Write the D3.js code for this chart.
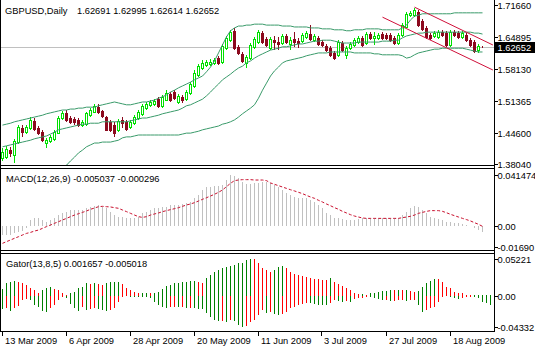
<!DOCTYPE html>
<html>
<head>
<meta charset="utf-8">
<script src="https://cdn.jsdelivr.net/npm/d3@7"></script>
<style>
  html, body { margin: 0; padding: 0; background: #fff; }
  svg { display: block; font-family: "Liberation Sans", Arial, sans-serif; font-size: 9.3px; }
</style>
</head>
<body>
<svg id="chart" width="535" height="350"></svg>
<script>
// ---- GBPUSD daily, 13 Mar 2009 .. 28 Aug 2009 ----
const open = [1.3922,1.3944,1.4092,1.3986,1.4262,1.4558,1.4474,1.4558,1.4707,1.4558,
1.4474,1.4240,1.4283,1.4325,1.4452,1.4770,1.4876,1.4770,1.4749,1.4728,
1.4622,1.4643,1.4834,1.4898,1.5004,1.4919,1.4792,1.4686,1.4622,1.4516,
1.4728,1.4686,1.4580,1.4664,1.4770,1.4855,1.4982,1.5046,1.5067,1.5173,
1.5025,1.5152,1.5279,1.5322,1.5110,1.5216,1.5173,1.5300,1.5449,1.5682,
1.5830,1.5894,1.5915,1.5936,1.6042,1.5958,1.6254,1.6424,1.6615,1.6276,
1.6127,1.5936,1.6042,1.6276,1.6382,1.6572,1.6445,1.6254,1.6424,1.6382,
1.6360,1.6509,1.6339,1.6445,1.6403,1.6403,1.6488,1.6551,1.6424,1.6466,
1.6382,1.6297,1.6254,1.6148,1.6106,1.6360,1.6106,1.6254,1.6318,1.6382,
1.6466,1.6360,1.6551,1.6466,1.6466,1.6551,1.6530,1.6530,1.6466,1.6360,
1.6530,1.6700,1.6954,1.6954,1.7018,1.6827,1.6678,1.6530,1.6509,1.6488,
1.6594,1.6572,1.6318,1.6594,1.6572,1.6488,1.6530,1.6424,1.6382,1.6212,
1.62691];
const high = [1.4134,1.4177,1.4156,1.4325,1.4622,1.4622,1.4622,1.4792,1.4770,1.4601,
1.4516,1.4346,1.4410,1.4516,1.4813,1.4919,1.4940,1.4813,1.4792,1.4770,
1.4728,1.4898,1.4982,1.5067,1.5067,1.4940,1.4813,1.4728,1.4686,1.4749,
1.4792,1.4728,1.4728,1.4834,1.4940,1.5067,1.5110,1.5152,1.5173,1.5216,
1.5258,1.5364,1.5322,1.5364,1.5279,1.5258,1.5364,1.5534,1.5788,1.5915,
1.6000,1.6000,1.6021,1.6042,1.6085,1.6339,1.6509,1.6636,1.6678,1.6318,
1.6170,1.6106,1.6360,1.6488,1.6636,1.6615,1.6488,1.6488,1.6509,1.6488,
1.6551,1.6551,1.6488,1.6594,1.6466,1.6572,1.6615,1.6742,1.6551,1.6509,
1.6424,1.6339,1.6297,1.6191,1.6424,1.6403,1.6297,1.6382,1.6466,1.6509,
1.6509,1.6594,1.6594,1.6594,1.6572,1.6594,1.6572,1.6572,1.6509,1.6572,
1.6784,1.7018,1.7039,1.7102,1.7060,1.6869,1.6721,1.6572,1.6615,1.6636,
1.6636,1.6615,1.6636,1.6636,1.6615,1.6615,1.6572,1.6466,1.6424,1.6339,
1.62995];
const low = [1.3859,1.3901,1.3944,1.3816,1.4219,1.4368,1.4431,1.4516,1.4495,1.4410,
1.4262,1.4134,1.4240,1.4283,1.4431,1.4728,1.4686,1.4643,1.4622,1.4580,
1.4580,1.4601,1.4792,1.4876,1.4855,1.4770,1.4495,1.4474,1.4368,1.4474,
1.4558,1.4495,1.4537,1.4622,1.4728,1.4813,1.4940,1.5004,1.5025,1.4982,
1.4982,1.5131,1.5110,1.5152,1.5067,1.5088,1.5131,1.5258,1.5406,1.5640,
1.5788,1.5852,1.5873,1.5894,1.5894,1.5915,1.6212,1.6382,1.6212,1.6106,
1.5936,1.5830,1.6000,1.6233,1.6339,1.6339,1.6276,1.6212,1.6212,1.6212,
1.6318,1.6339,1.6212,1.6276,1.6254,1.6360,1.6445,1.6403,1.6382,1.6297,
1.6276,1.6170,1.6064,1.6000,1.6064,1.6170,1.6021,1.6212,1.6276,1.6339,
1.6276,1.6318,1.6424,1.6318,1.6424,1.6424,1.6424,1.6382,1.6318,1.6318,
1.6488,1.6678,1.6912,1.6912,1.6700,1.6615,1.6445,1.6424,1.6466,1.6445,
1.6488,1.6276,1.6276,1.6488,1.6445,1.6445,1.6382,1.6276,1.6148,1.6148,
1.62614];
const close = [1.4050,1.4113,1.4028,1.4283,1.4580,1.4474,1.4580,1.4728,1.4537,1.4452,
1.4304,1.4304,1.4368,1.4474,1.4770,1.4876,1.4728,1.4686,1.4686,1.4622,
1.4686,1.4876,1.4940,1.5025,1.4898,1.4813,1.4516,1.4516,1.4452,1.4707,
1.4664,1.4537,1.4686,1.4792,1.4898,1.5025,1.5067,1.5110,1.5131,1.5025,
1.5216,1.5300,1.5152,1.5194,1.5237,1.5152,1.5322,1.5491,1.5724,1.5873,
1.5936,1.5958,1.5958,1.6000,1.5936,1.6297,1.6466,1.6594,1.6254,1.6148,
1.5979,1.6064,1.6318,1.6445,1.6594,1.6382,1.6318,1.6445,1.6382,1.6339,
1.6509,1.6382,1.6424,1.6382,1.6360,1.6530,1.6572,1.6445,1.6509,1.6339,
1.6318,1.6212,1.6106,1.6042,1.6382,1.6212,1.6254,1.6339,1.6424,1.6466,
1.6318,1.6551,1.6466,1.6509,1.6530,1.6466,1.6466,1.6424,1.6360,1.6530,
1.6742,1.6975,1.6996,1.7060,1.6742,1.6657,1.6488,1.6466,1.6572,1.6594,
1.6530,1.6318,1.6594,1.6530,1.6488,1.6572,1.6424,1.6318,1.6191,1.6297,
1.62652];

// Bollinger Bands (20, 2)
const bbUpper = [1.462,1.464,1.466,1.469,1.471,1.473,1.475,1.477,1.479,1.481,1.483,1.486,1.488,1.490,1.492,1.494,
1.494,1.496,1.496,1.498,1.498,1.500,1.500,1.500,1.503,1.505,1.507,1.509,1.511,1.509,1.507,1.505,
1.505,1.507,1.509,1.511,1.511,1.513,1.515,1.519,1.522,1.526,1.532,1.536,1.541,1.545,1.549,1.553,
1.558,1.562,1.566,1.575,1.585,1.598,1.615,1.632,1.649,1.662,1.668,1.672,1.672,1.674,1.674,1.676,
1.676,1.676,1.674,1.674,1.674,1.674,1.672,1.672,1.672,1.670,1.670,1.670,1.670,1.668,1.668,1.668,
1.666,1.666,1.666,1.664,1.664,1.664,1.662,1.662,1.664,1.664,1.664,1.666,1.666,1.666,1.666,1.664,
1.664,1.664,1.664,1.664,1.668,1.674,1.685,1.693,1.695,1.698,1.698,1.698,1.698,1.698,1.698,1.698,
1.698,1.700,1.700,1.700,1.700,1.700,1.700,1.700,1.700];
const bbMiddle = [1.416,1.418,1.420,1.422,1.424,1.426,1.428,1.430,1.433,1.435,1.437,1.439,1.443,1.447,1.452,1.454,
1.456,1.458,1.460,1.462,1.464,1.464,1.466,1.466,1.466,1.469,1.469,1.469,1.469,1.469,1.469,1.469,
1.471,1.473,1.475,1.477,1.477,1.479,1.481,1.483,1.486,1.488,1.490,1.492,1.494,1.498,1.503,1.505,
1.509,1.513,1.517,1.524,1.532,1.541,1.549,1.558,1.564,1.570,1.577,1.583,1.587,1.594,1.598,1.604,
1.609,1.613,1.617,1.621,1.623,1.625,1.628,1.628,1.630,1.632,1.634,1.634,1.636,1.638,1.640,1.640,
1.642,1.642,1.642,1.640,1.638,1.636,1.636,1.636,1.636,1.638,1.638,1.638,1.638,1.638,1.638,1.640,
1.640,1.640,1.642,1.642,1.647,1.651,1.653,1.655,1.657,1.657,1.659,1.659,1.659,1.659,1.659,1.659,
1.659,1.659,1.659,1.659,1.659,1.659,1.657,1.657,1.655];
const bbLower = [1.367,1.365,1.363,1.360,1.356,1.354,1.352,1.350,1.350,1.350,1.352,1.354,1.358,1.363,1.367,1.373,
1.377,1.386,1.394,1.403,1.409,1.416,1.420,1.424,1.424,1.426,1.426,1.426,1.428,1.430,1.435,1.437,
1.437,1.439,1.441,1.441,1.441,1.441,1.441,1.441,1.441,1.441,1.441,1.441,1.441,1.443,1.445,1.445,
1.447,1.449,1.452,1.454,1.456,1.458,1.460,1.464,1.466,1.469,1.473,1.479,1.486,1.492,1.498,1.505,
1.519,1.536,1.551,1.566,1.577,1.585,1.594,1.598,1.600,1.602,1.604,1.606,1.609,1.611,1.613,1.615,
1.615,1.615,1.617,1.617,1.617,1.617,1.617,1.617,1.615,1.615,1.615,1.615,1.615,1.613,1.613,1.611,
1.611,1.611,1.611,1.611,1.609,1.604,1.606,1.611,1.615,1.617,1.619,1.621,1.623,1.623,1.625,1.625,
1.625,1.625,1.625,1.625,1.623,1.621,1.619,1.617,1.617];

// MACD (12,26,9): main histogram and signal
const macdMain = [-0.0075,-0.0073,-0.0070,-0.0060,-0.0046,-0.0040,-0.0019,0.0049,0.0062,0.0062,
0.0049,0.0035,0.0049,0.0062,0.0089,0.0103,0.0117,0.0130,0.0130,0.0130,
0.0130,0.0144,0.0157,0.0165,0.0171,0.0157,0.0144,0.0117,0.0089,0.0076,
0.0076,0.0062,0.0062,0.0062,0.0076,0.0103,0.0117,0.0130,0.0144,0.0144,
0.0157,0.0157,0.0171,0.0171,0.0171,0.0176,0.0184,0.0198,0.0225,0.0252,
0.0293,0.0320,0.0320,0.0328,0.0328,0.0333,0.0374,0.041474,0.0409,0.0388,
0.0361,0.0339,0.0339,0.0347,0.0347,0.0361,0.0355,0.0347,0.0333,0.0320,
0.0293,0.0266,0.0252,0.0239,0.0225,0.0225,0.0225,0.0211,0.0198,0.0171,
0.0144,0.0103,0.0089,0.0062,0.0062,0.0057,0.0049,0.0049,0.0049,0.0057,
0.0062,0.0062,0.0068,0.0068,0.0068,0.0062,0.0062,0.0062,0.0062,0.0068,
0.0089,0.0117,0.0144,0.0165,0.0157,0.0130,0.0103,0.0076,0.0062,0.0057,
0.0049,0.0035,0.0035,0.0022,0.0022,0.0014,0.0008,0.0000,-0.0019,-0.0033,
-0.005037];
const macdSignal = [-0.0141,-0.0127,-0.0114,-0.0100,-0.0087,-0.0073,-0.0060,-0.0052,-0.0041,-0.0033,
-0.0019,-0.0005,0.0008,0.0022,0.0035,0.0049,0.0062,0.0076,0.0089,0.0100,
0.0111,0.0122,0.0136,0.0146,0.0157,0.0160,0.0157,0.0155,0.0149,0.0144,
0.0130,0.0117,0.0103,0.0089,0.0076,0.0070,0.0076,0.0089,0.0098,0.0106,
0.0117,0.0125,0.0133,0.0141,0.0149,0.0160,0.0171,0.0179,0.0190,0.0203,
0.0217,0.0230,0.0244,0.0258,0.0274,0.0293,0.0320,0.0347,0.0369,0.0374,
0.0377,0.0377,0.0377,0.0374,0.0374,0.0374,0.0369,0.0350,0.0339,0.0328,
0.0317,0.0306,0.0295,0.0285,0.0274,0.0263,0.0249,0.0236,0.0225,0.0209,
0.0195,0.0179,0.0165,0.0149,0.0136,0.0119,0.0106,0.0092,0.0081,0.0073,
0.0065,0.0062,0.0062,0.0062,0.0062,0.0062,0.0062,0.0062,0.0062,0.0062,
0.0068,0.0073,0.0079,0.0089,0.0103,0.0111,0.0119,0.0125,0.0125,0.0125,
0.0119,0.0108,0.0095,0.0084,0.0073,0.0062,0.0052,0.0041,0.0027,0.0014,
-0.000296];

// Gator (13,8,5): upper and lower histograms
const gatorUpper = [0.0094,0.0179,0.0202,0.0216,0.0202,0.0179,0.0155,0.0108,0.0085,0.0047,
0.0085,0.0108,0.0122,0.0094,0.0085,0.0038,0.0014,0.0047,0.0061,0.0108,
0.0132,0.0179,0.0169,0.0179,0.0169,0.0155,0.0179,0.0193,0.0202,0.0202,
0.0169,0.0108,0.0085,0.0061,0.0047,0.0047,0.0047,0.0038,0.0038,0.0061,
0.0099,0.0141,0.0155,0.0179,0.0188,0.0193,0.0202,0.0216,0.0216,0.0202,
0.0188,0.0249,0.0296,0.0343,0.0367,0.0390,0.0414,0.0423,0.0437,0.0461,
0.0470,0.0508,0.05221,0.0520,0.0461,0.0390,0.0367,0.0343,0.0367,0.0414,
0.0423,0.0390,0.0343,0.0310,0.0296,0.0282,0.0263,0.0249,0.0235,0.0233,
0.0231,0.0229,0.0249,0.0202,0.0169,0.0141,0.0108,0.0085,0.0038,0.0028,
0.0030,0.0014,0.0038,0.0047,0.0061,0.0071,0.0075,0.0085,0.0083,0.0085,
0.0083,0.0085,0.0075,0.0061,0.0065,0.0132,0.0179,0.0216,0.0235,0.0233,
0.0202,0.0132,0.0108,0.0061,0.0047,0.0038,0.0014,0.0010,0.0012,0.0014,
0.0016,0.0017,0.0017];
const gatorLower = [-0.0188,-0.0174,-0.0207,-0.0174,-0.0141,-0.0056,-0.0047,-0.0056,-0.0127,-0.0151,
-0.0207,-0.0221,-0.0174,-0.0127,-0.0056,-0.0009,-0.0033,-0.0113,-0.0174,-0.0207,
-0.0151,-0.0198,-0.0188,-0.0174,-0.0188,-0.0198,-0.0207,-0.0198,-0.0174,-0.0080,
-0.0019,-0.0005,-0.0009,-0.0009,-0.0014,-0.0014,-0.0019,-0.0033,-0.0080,-0.0127,
-0.0160,-0.0165,-0.0160,-0.0151,-0.0160,-0.0158,-0.0174,-0.0172,-0.0174,-0.0183,
-0.0188,-0.0245,-0.0292,-0.0339,-0.0353,-0.0348,-0.0362,-0.0339,-0.0348,-0.0409,
-0.04332,-0.0430,-0.0362,-0.0339,-0.0268,-0.0198,-0.0245,-0.0221,-0.0254,-0.0268,
-0.0259,-0.0221,-0.0174,-0.0151,-0.0127,-0.0113,-0.0103,-0.0105,-0.0113,-0.0127,
-0.0129,-0.0131,-0.0103,-0.0056,-0.0066,-0.0080,-0.0066,-0.0080,-0.0047,-0.0033,
-0.0031,-0.0019,-0.0021,-0.0033,-0.0047,-0.0056,-0.0054,-0.0066,-0.0064,-0.0056,
-0.0054,-0.0066,-0.0056,-0.0054,-0.0127,-0.0221,-0.0198,-0.0174,-0.0151,-0.0080,
-0.0009,-0.0007,-0.0019,-0.0033,-0.0047,-0.0033,-0.0019,-0.0009,-0.0019,-0.0033,
-0.0080,-0.0103,-0.0127];

// Trend channel drawn over the last leg (bar index, price)
const channelUpper = [{bar: 103, price: 1.7120}, {bar: 122.6, price: 1.6318}];
const channelLower = [{bar: 95, price: 1.6908}, {bar: 122.6, price: 1.5788}];

const lastPrice = 1.62652;
const priceTicks = [1.71660, 1.64895, 1.58130, 1.51365, 1.44600, 1.38040];
const macdTicks = [0.041474, 0, -0.0169];
const macdTickLabels = ["0.041474", "0.00", "-0.01690"];
const gatorTicks = [0.05221, 0, -0.04332];
const gatorTickLabels = ["0.05221", "0.00", "-0.04332"];
const dateTickBars = [0, 16, 32, 48, 64, 80, 96, 112];
const dateTickLabels = ["13 Mar 2009", "6 Apr 2009", "28 Apr 2009", "20 May 2009",
                        "11 Jun 2009", "3 Jul 2009", "27 Jul 2009", "18 Aug 2009"];

const titleMain = "GBPUSD,Daily";
const titleOHLC = "1.62691 1.62995 1.62614 1.62652";
const titleMacd = "MACD(12,26,9) -0.005037 -0.000296";
const titleGator = "Gator(13,8,5) 0.001657 -0.005018";

// ---- colours ----
const bullColor = "#00e000", bearColor = "#8c0a1e", bandColor = "#3a9a6a";
const channelColor = "#d0103a", signalColor = "#c8102e", histColor = "#c0c0c0";
const gUp = "#008000", gDown = "#ff0000";

// ---- layout ----
const axisX = 494.5;
const mainTop = 0, mainBottom = 165.5;
const macdTop = 168.5, macdBottom = 250.5;
const gatorTop = 253.5, gatorBottom = 331.5;

const svg = d3.select("#chart");
const x = d3.scaleLinear().domain([0, 120]).range([2.5, 482.5]);
const yPrice = d3.scaleLinear().domain([1.37528, 1.7272]).range([166, 0]);
const yMacd = d3.scaleLinear().domain([-0.02033, 0.04636]).range([251, 169]);
const yGator = d3.scaleLinear().domain([-0.0508, 0.05997]).range([332, 253.5]);

const defs = svg.append("defs");
function clip(id, y0, y1) {
  defs.append("clipPath").attr("id", id).append("rect")
    .attr("x", 1).attr("y", y0).attr("width", axisX - 1).attr("height", y1 - y0);
  return svg.append("g").attr("clip-path", `url(#${id})`);
}

// ---- main price window ----
const gMain = clip("clipMain", mainTop, mainBottom);

gMain.append("line")
  .attr("x1", 0).attr("x2", axisX)
  .attr("y1", Math.round(yPrice(lastPrice)) + 0.5).attr("y2", Math.round(yPrice(lastPrice)) + 0.5)
  .attr("stroke", "#c0c0c0");

const bars = d3.range(close.length).map(i => ({i, o: open[i], h: high[i], l: low[i], c: close[i]}));
const gCandles = gMain.append("g").attr("shape-rendering", "crispEdges");
gCandles.selectAll("line").data(bars).join("line")
  .attr("x1", d => x(d.i)).attr("x2", d => x(d.i))
  .attr("y1", d => yPrice(d.h)).attr("y2", d => yPrice(d.l))
  .attr("stroke", d => d.c >= d.o ? bullColor : bearColor);
gCandles.selectAll("rect").data(bars).join("rect")
  .attr("x", d => x(d.i) - 1)
  .attr("width", 2)
  .attr("y", d => Math.round(yPrice(Math.max(d.o, d.c))) + 0.5)
  .attr("height", d => Math.max(0, Math.round(yPrice(Math.min(d.o, d.c))) - Math.round(yPrice(Math.max(d.o, d.c)))))
  .attr("fill", d => d.c >= d.o ? "#fff" : bearColor)
  .attr("stroke", d => d.c >= d.o ? bullColor : bearColor);

const bandLine = d3.line().x((d, i) => x(i)).y(d => yPrice(d));
[bbUpper, bbMiddle, bbLower].forEach(arr => {
  gMain.append("path").attr("d", bandLine(arr))
    .attr("fill", "none").attr("stroke", bandColor).attr("stroke-width", 1);
});

[channelUpper, channelLower].forEach(seg => {
  gMain.append("line")
    .attr("x1", x(seg[0].bar)).attr("y1", yPrice(seg[0].price))
    .attr("x2", x(seg[1].bar)).attr("y2", yPrice(seg[1].price))
    .attr("stroke", channelColor).attr("stroke-width", 1);
});

// ---- MACD window ----
const gMacd = clip("clipMacd", macdTop, macdBottom);
gMacd.append("g").attr("shape-rendering", "crispEdges")
  .selectAll("line").data(macdMain).join("line")
  .attr("x1", (d, i) => x(i)).attr("x2", (d, i) => x(i))
  .attr("y1", yMacd(0)).attr("y2", d => yMacd(d))
  .attr("stroke", histColor);
gMacd.append("path")
  .attr("d", d3.line().x((d, i) => x(i)).y(d => yMacd(d))(macdSignal))
  .attr("fill", "none").attr("stroke", signalColor).attr("stroke-width", 1)
  .attr("stroke-dasharray", "3,2");

// ---- Gator window ----
const gGator = clip("clipGator", gatorTop, gatorBottom);
const gatorBars = gGator.append("g").attr("shape-rendering", "crispEdges");
gatorBars.selectAll("line.up").data(gatorUpper).join("line").attr("class", "up")
  .attr("x1", (d, i) => x(i)).attr("x2", (d, i) => x(i))
  .attr("y1", yGator(0)).attr("y2", d => yGator(d))
  .attr("stroke", (d, i) => (i === 0 || d >= gatorUpper[i - 1]) ? gUp : gDown);
gatorBars.selectAll("line.down").data(gatorLower).join("line").attr("class", "down")
  .attr("x1", (d, i) => x(i)).attr("x2", (d, i) => x(i))
  .attr("y1", yGator(0)).attr("y2", d => yGator(d))
  .attr("stroke", (d, i) => (i === 0 || Math.abs(d) >= Math.abs(gatorLower[i - 1])) ? gUp : gDown);

// ---- frames ----
const frame = svg.append("g").attr("stroke", "#000").attr("shape-rendering", "crispEdges");
frame.append("line").attr("x1", 0.5).attr("x2", 0.5).attr("y1", 0).attr("y2", gatorBottom);
frame.append("line").attr("x1", axisX).attr("x2", axisX).attr("y1", 0).attr("y2", gatorBottom);
[mainBottom, macdTop, macdBottom, gatorTop, gatorBottom].forEach(y => {
  frame.append("line").attr("x1", 0).attr("x2", axisX).attr("y1", y).attr("y2", y);
});

// ---- right-hand scales ----
function rightScale(ticks, labels, scale) {
  ticks.forEach((t, k) => {
    const yy = Math.round(scale(t)) + 0.5;
    frame.append("line").attr("x1", axisX).attr("x2", axisX + 3).attr("y1", yy).attr("y2", yy);
    svg.append("text").attr("x", 497.5).attr("y", yy + 3.3).attr("fill", "#000").text(labels[k]);
  });
}
rightScale(priceTicks, priceTicks.map(d => d.toFixed(5)), yPrice);
rightScale(macdTicks, macdTickLabels, yMacd);
rightScale(gatorTicks, gatorTickLabels, yGator);

// current price marker
const yLast = Math.round(yPrice(lastPrice)) + 0.5;
svg.append("rect").attr("x", 495).attr("y", yLast - 5.5).attr("width", 40).attr("height", 11).attr("fill", "#000");
svg.append("text").attr("x", 497.5).attr("y", yLast + 3.3).attr("fill", "#fff").text(lastPrice.toFixed(5));

// ---- date axis ----
dateTickBars.forEach((b, k) => {
  const xx = Math.round(x(b)) - 0.5;
  frame.append("line").attr("x1", xx).attr("x2", xx).attr("y1", gatorBottom).attr("y2", gatorBottom + 4);
  svg.append("text").attr("x", xx + 2.5).attr("y", 344).attr("fill", "#000").text(dateTickLabels[k]);
});

// ---- window captions ----
svg.append("text").attr("x", 5).attr("y", 13.5).text(titleMain);
svg.append("text").attr("x", 77).attr("y", 13.5).text(titleOHLC);
svg.append("text").attr("x", 6).attr("y", 182).text(titleMacd);
svg.append("text").attr("x", 6).attr("y", 266.5).text(titleGator);
</script>
</body>
</html>
